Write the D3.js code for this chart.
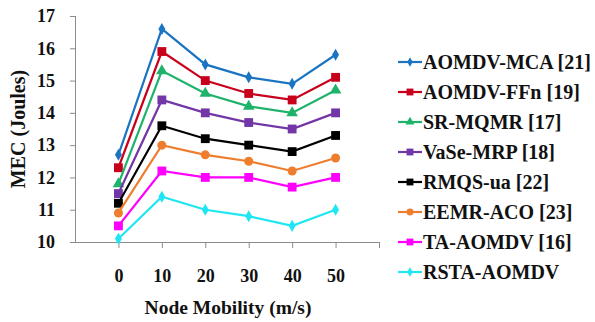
<!DOCTYPE html>
<html>
<head>
<meta charset="utf-8">
<script src="https://cdn.jsdelivr.net/npm/d3@7"></script>
<style>
  body { margin: 0; background: #fff; }
</style>
</head>
<body>
<svg id="chart" width="595" height="322" font-family="'Liberation Serif', serif"></svg>
<script>
// node mobility (m/s)
var mobility = [0, 10, 20, 30, 40, 50];
var xTicks = [0, 10, 20, 30, 40, 50, 60];
var yTicks = [10, 11, 12, 13, 14, 15, 16, 17];

var seriesNames = ['AOMDV-MCA [21]', 'AOMDV-FFn [19]', 'SR-MQMR [17]', 'VaSe-MRP [18]',
                   'RMQS-ua [22]', 'EEMR-ACO [23]', 'TA-AOMDV [16]', 'RSTA-AOMDV'];
var aomdvMca  = [12.7, 16.6, 15.5, 15.1, 14.9, 15.8];
var aomdvFfn  = [12.3, 15.9, 15.0, 14.6, 14.4, 15.1];
var srMqmr    = [11.8, 15.3, 14.6, 14.2, 14.0, 14.7];
var vaseMrp   = [11.5, 14.4, 14.0, 13.7, 13.5, 14.0];
var rmqsUa    = [11.2, 13.6, 13.2, 13.0, 12.8, 13.3];
var eemrAco   = [10.9, 13.0, 12.7, 12.5, 12.2, 12.6];
var taAomdv   = [10.5, 12.2, 12.0, 12.0, 11.7, 12.0];
var rstaAomdv = [10.1, 11.4, 11.0, 10.8, 10.5, 11.0];

var colors  = ['#1b74c2', '#c8001c', '#1db36b', '#7236a6', '#000000', '#ee7d2e', '#ff00ff', '#1fe6f2'];
var symbols = ['diamond', 'square', 'triangle', 'square', 'square', 'circle', 'square', 'diamond'];

var series = [aomdvMca, aomdvFfn, srMqmr, vaseMrp, rmqsUa, eemrAco, taAomdv, rstaAomdv].map(function(v, i){
  return { name: seriesNames[i], color: colors[i], symbol: symbols[i], values: v };
});

var FONT = "'Liberation Serif', 'Times New Roman', serif";

var svg = d3.select('#chart');

var x = d3.scaleLinear().domain([-10, 60]).range([75, 379]);
var y = d3.scaleLinear().domain([10, 17]).range([242, 16]);

// axes
var yAxis = svg.append('g')
  .attr('transform', 'translate(75,0)')
  .call(d3.axisLeft(y).tickValues(yTicks).tickSize(5).tickPadding(15).tickFormat(d3.format('d')));

var xAxis = svg.append('g')
  .attr('transform', 'translate(0,242)')
  .call(d3.axisBottom(x).tickValues(xTicks).tickSize(6).tickPadding(21)
    .tickFormat(function(d){ return d > 50 ? '' : d; }));

svg.selectAll('.domain, .tick line').attr('stroke', '#8c8c8c').attr('stroke-width', 1);
xAxis.select('.domain').attr('d', 'M75,0.5H379');
yAxis.select('.domain').attr('d', 'M0.5,16V242');

// axis titles
svg.append('text')
  .attr('transform', 'translate(25,129) rotate(-90)')
  .attr('text-anchor', 'middle')
  .style('font-size', '20px')
  .text('MEC (Joules)');

svg.append('text')
  .attr('x', 228).attr('y', 314)
  .attr('text-anchor', 'middle')
  .style('font-size', '19.5px')
  .text('Node Mobility (m/s)');

var symbolType = function(s) {
  return { diamond: d3.symbolDiamond, square: d3.symbolSquare, triangle: d3.symbolTriangle, circle: d3.symbolCircle }[s];
};
var symbolSize = function(s) {
  return { diamond: 42, square: 78, triangle: 58, circle: 64 }[s];
};

var line = d3.line()
  .x(function(d, i){ return x(mobility[i]); })
  .y(function(d){ return y(d); });

var g = svg.selectAll('.series').data(series).enter().append('g').attr('class', 'series');

g.append('path')
  .attr('d', function(d){ return line(d.values); })
  .attr('fill', 'none')
  .attr('stroke', function(d){ return d.color; })
  .attr('stroke-width', 2.2);

g.each(function(s){
  d3.select(this).selectAll('path.pt').data(s.values).enter().append('path')
    .attr('class', 'pt')
    .attr('transform', function(d, i){ return 'translate(' + x(mobility[i]) + ',' + y(d) + ')'; })
    .attr('d', d3.symbol().type(symbolType(s.symbol)).size(symbolSize(s.symbol)))
    .attr('fill', s.color);
});

// legend
var legend = svg.selectAll('.legend').data(series).enter().append('g')
  .attr('class', 'legend')
  .attr('transform', function(d, i){ return 'translate(398,' + (62 + i * 30) + ')'; });

legend.append('line')
  .attr('x1', 0).attr('x2', 24)
  .attr('stroke', function(d){ return d.color; })
  .attr('stroke-width', 2.2);

legend.append('path')
  .attr('transform', 'translate(12,0)')
  .attr('d', function(d){ return d3.symbol().type(symbolType(d.symbol)).size(symbolSize(d.symbol) * 0.6)(); })
  .attr('fill', function(d){ return d.color; });

legend.append('text')
  .attr('x', 25).attr('y', 0).attr('dy', '0.35em')
  .style('font-size', '20px')
  .text(function(d){ return d.name; });

xAxis.selectAll('text').style('font-size', '18px');
yAxis.selectAll('text').style('font-size', '18px');
xAxis.attr('font-family', null);
yAxis.attr('font-family', null);
svg.selectAll('text')
  .style('font-family', FONT)
  .style('font-weight', 'bold')
  .style('fill', '#111');
</script>
</body>
</html>
